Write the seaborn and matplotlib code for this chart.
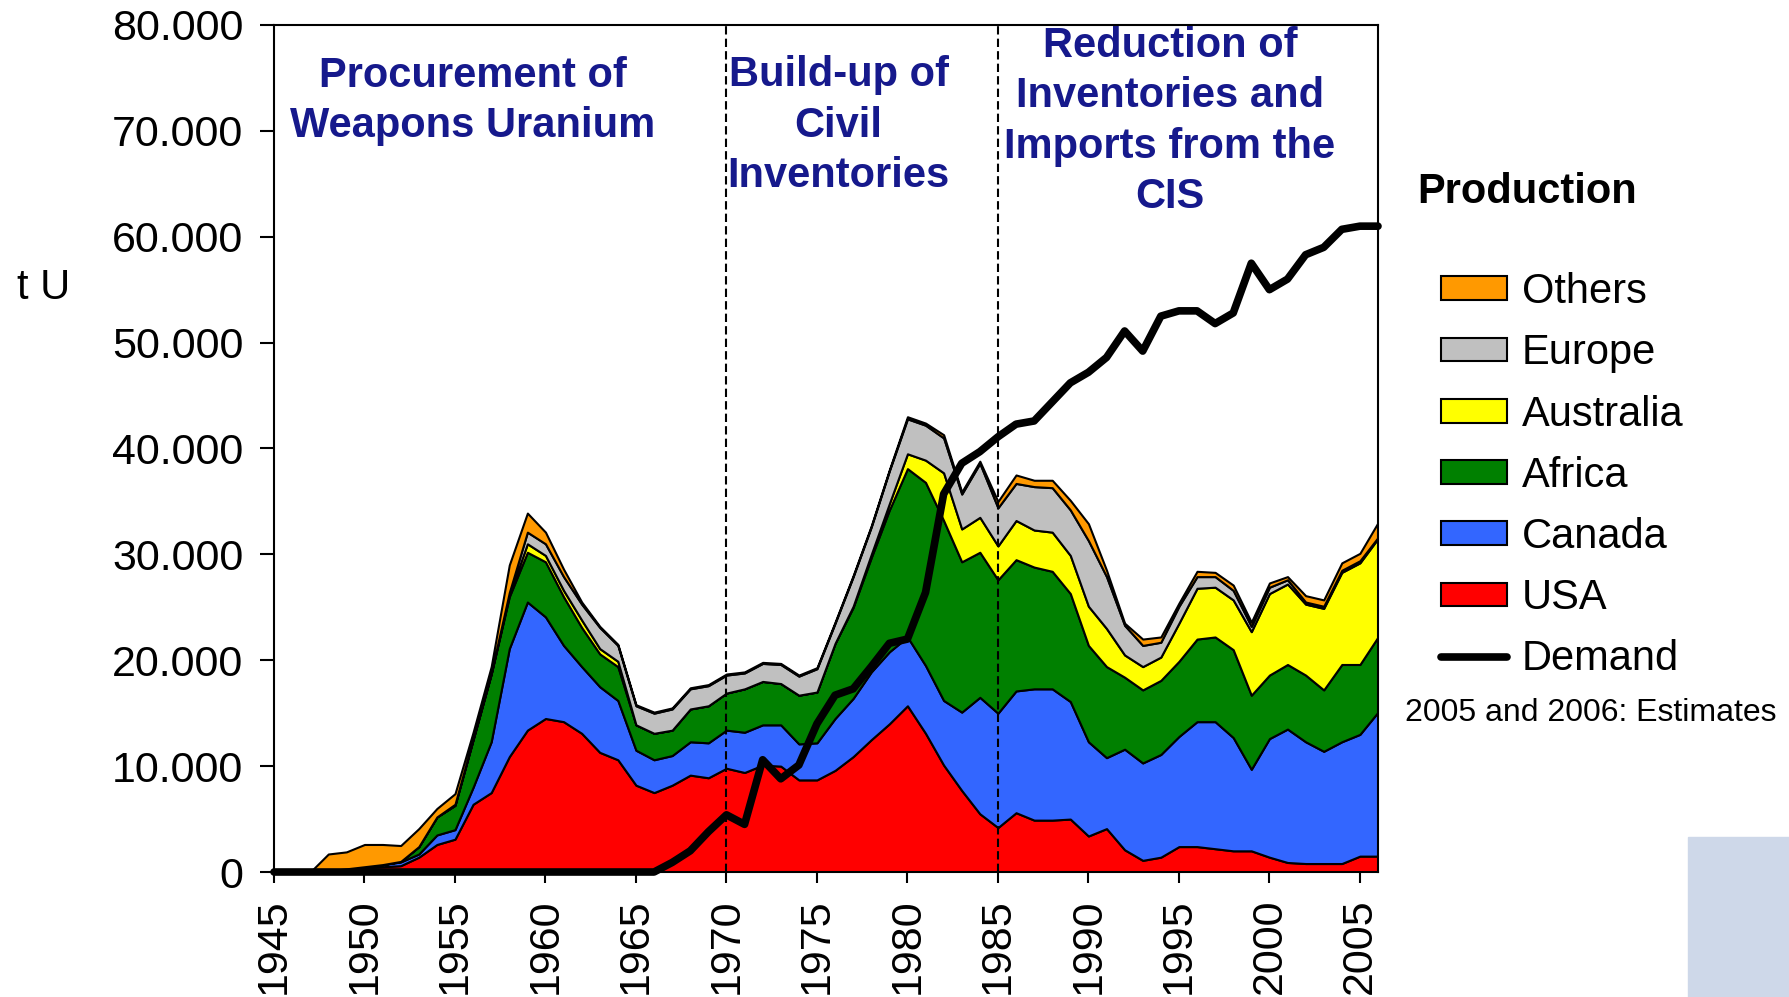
import matplotlib
matplotlib.use("Agg")
import matplotlib.pyplot as plt
from matplotlib.patches import Patch, Rectangle
from matplotlib.lines import Line2D
from matplotlib.ticker import FuncFormatter
import numpy as np
import seaborn as sns

# years 1945 - 2006
years = list(range(1945, 2007))

# production by region, t U
usa = [0, 0, 0, 100, 200, 400, 500, 600, 1400, 2600,
       3100, 6400, 7500, 10900, 13400, 14500, 14200, 13100, 11300, 10600,
       8200, 7500, 8200, 9150, 8900, 9800, 9400, 10100, 10000, 8700,
       8700, 9600, 10900, 12500, 14000, 15700, 13100, 10100, 7700, 5500,
       4200, 5600, 4900, 4900, 5000, 3400, 4100, 2100, 1100, 1400,
       2400, 2400, 2200, 2000, 2000, 1400, 900, 800, 800, 800,
       1500, 1500]
canada = [0, 0, 0, 0, 100, 100, 200, 350, 300, 900,
          900, 1600, 4800, 10200, 12100, 9600, 7200, 6300, 6200, 5600,
          3300, 3100, 2800, 3150, 3300, 3600, 3800, 3800, 3900, 3400,
          3500, 4900, 5500, 6400, 6800, 6500, 6400, 6100, 7400, 11000,
          10800, 11500, 12400, 12400, 11100, 8900, 6700, 9500, 9200, 9700,
          10400, 11800, 12000, 10700, 7700, 11200, 12600, 11500, 10600, 11500,
          11500, 13600]
africa = [0, 0, 0, 0, 0, 0, 0, 50, 700, 1700,
          2300, 4500, 6400, 4900, 4700, 5200, 4600, 3700, 3100, 3200,
          2400, 2500, 2400, 3100, 3500, 3500, 4100, 4100, 3900, 4600,
          4800, 7100, 8600, 10800, 13400, 15900, 17300, 17000, 14200, 13700,
          12600, 12400, 11500, 11100, 10200, 9100, 8600, 6800, 6900, 7000,
          7100, 7800, 8000, 8300, 7000, 6000, 6100, 6300, 5800, 7300,
          6600, 7100]
australia = [0, 0, 0, 0, 0, 0, 0, 0, 0, 0,
             0, 0, 0, 200, 800, 600, 600, 700, 500, 500,
             0, 0, 0, 0, 0, 0, 0, 0, 0, 0,
             0, 0, 100, 300, 600, 1400, 2100, 4500, 3100, 3300,
             3200, 3700, 3500, 3700, 3600, 3700, 3600, 2100, 2200, 2200,
             3600, 4800, 4700, 4700, 6000, 7700, 7600, 6700, 7700, 8700,
             9600, 9300]
europe = [0, 0, 0, 0, 0, 0, 0, 0, 0, 0,
          100, 100, 100, 200, 1100, 1100, 1300, 1500, 2000, 1500,
          1800, 1900, 2000, 1900, 1900, 1700, 1500, 1700, 1800, 1800,
          2200, 1900, 2800, 2600, 3100, 3300, 3300, 3300, 3300, 5100,
          3600, 3500, 4100, 4200, 4300, 6200, 4900, 2800, 2000, 1400,
          1600, 1100, 1000, 900, 500, 600, 400, 200, 200, 200,
          200, 100]
others = [0, 0, 0, 1600, 1600, 2100, 1900, 1500, 1700, 800,
          1000, 600, 600, 2600, 1800, 1100, 700, 200, 100, 100,
          100, 100, 100, 100, 100, 100, 100, 100, 100, 100,
          100, 100, 100, 100, 100, 200, 200, 300, 200, 200,
          600, 800, 600, 700, 900, 1600, 600, 200, 600, 500,
          300, 500, 400, 500, 400, 400, 300, 600, 600, 700,
          700, 1400]
demand = [0, 0, 0, 0, 0, 0, 0, 0, 0, 0,
          0, 0, 0, 0, 0, 0, 0, 0, 0, 0,
          0, 0, 900, 2000, 3800, 5400, 4500, 10600, 8800, 10100,
          14000, 16700, 17300, 19400, 21600, 22000, 26400, 35700, 38600, 39700,
          41100, 42300, 42600, 44400, 46200, 47200, 48600, 51100, 49200, 52500,
          53000, 53000, 51800, 52800, 57500, 55000, 56000, 58300, 59000, 60700,
          61000, 61000]

regions = ["USA", "Canada", "Africa", "Australia", "Europe", "Others"]
colors = ["#FF0000", "#3366FF", "#008000", "#FFFF00", "#C0C0C0", "#FF9900"]

phases = ["Procurement of\nWeapons Uranium",
          "Build-up of\nCivil\nInventories",
          "Reduction of\nInventories and\nImports from the\nCIS"]

sns.set_style("ticks")
plt.rcParams["font.family"] = ["Liberation Sans", "DejaVu Sans"]
plt.rcParams["text.color"] = "black"
plt.rcParams["xtick.color"] = "black"
plt.rcParams["ytick.color"] = "black"

fig = plt.figure(figsize=(17.9, 9.97), dpi=100)
ax = fig.add_axes([274 / 1790, 1 - 872 / 997, 1104 / 1790, 847 / 997])

ax.stackplot(years, usa, canada, africa, australia, europe, others,
             colors=colors, edgecolor="black", linewidth=1.5, zorder=2)

for yr in (1970, 1985):
    ax.axvline(yr, color="black", lw=1.5, ls=(0, (4, 2)), zorder=3)

sns.lineplot(x=years, y=demand, ax=ax, color="black", lw=5.5,
             solid_capstyle="round", zorder=4, clip_on=False)

ax.set_xlim(1945, 2006)
ax.set_ylim(0, 80000)
ax.set_xticks(range(1945, 2006, 5))
ax.set_yticks(range(0, 80001, 10000))
ax.yaxis.set_major_formatter(FuncFormatter(lambda v, p: f"{v:,.0f}".replace(",", ".")))
ax.tick_params(axis="y", labelsize=31, length=10, width=1.5, pad=12, direction="out")
ax.tick_params(axis="x", labelsize=31, length=8, width=1.5, pad=11, direction="out",
               labelrotation=90)
for s in ax.spines.values():
    s.set_visible(True)
    s.set_linewidth(1.5)
    s.set_color("black")

navy = "#16198C"
ax.text(1956.0, 72800, phases[0], ha="center", va="center", color=navy,
        fontsize=30, fontweight="bold", linespacing=1.34)
ax.text(1976.2, 70500, phases[1], ha="center", va="center", color=navy,
        fontsize=30, fontweight="bold", linespacing=1.34)
ax.text(1994.5, 70900, phases[2], ha="center", va="center", color=navy,
        fontsize=30, fontweight="bold", linespacing=1.34)

fig.text(17 / 1790, 1 - 288 / 997, "t U", fontsize=30, va="center", ha="left")

# legend
fig.text(1417 / 1790, 1 - 192 / 997, "Production", fontsize=30,
         fontweight="bold", va="center", ha="left")
handles = [Patch(facecolor=c, edgecolor="black", linewidth=1.5)
           for c in colors[::-1]]
handles.append(Line2D([0], [0], color="black", lw=5.5, solid_capstyle="round"))
labels = regions[::-1] + ["Demand"]
fig.legend(handles, labels, loc="upper left",
           bbox_to_anchor=(1441 / 1790, 1 - 272 / 997), frameon=False,
           fontsize=30, handlelength=1.58, handleheight=0.5,
           handletextpad=0.36, labelspacing=0.51, borderaxespad=0, borderpad=0)
fig.text(1405 / 1790, 1 - 713 / 997, "2005 and 2006: Estimates", fontsize=23,
         va="center", ha="left")

fig.patches.append(Rectangle((1688 / 1790, 0), 102 / 1790, 160 / 997,
                             transform=fig.transFigure, color="#CED8E9", zorder=0))

plt.savefig("out.png", dpi=100)
